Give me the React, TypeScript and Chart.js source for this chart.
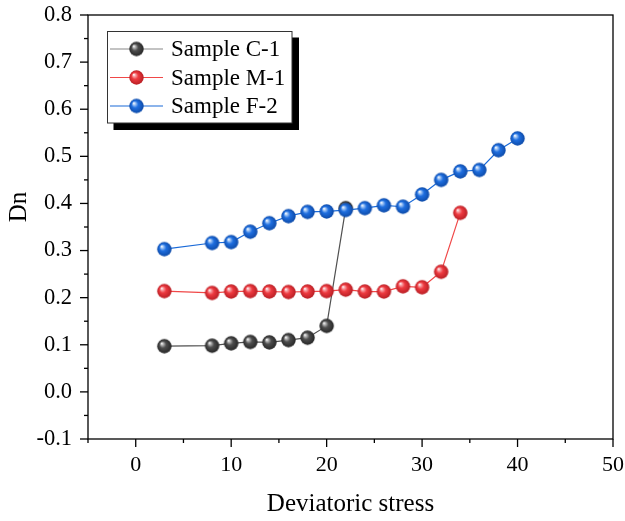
import React, { useEffect, useRef } from "react";
import { Chart, registerables } from "chart.js";

Chart.register(...registerables);

const xC1 = [3, 8, 10, 12, 14, 16, 18, 20, 22];
const yC1 = [0.097, 0.098, 0.103, 0.106, 0.105, 0.11, 0.115, 0.14, 0.39];
const xM1 = [3, 8, 10, 12, 14, 16, 18, 20, 22, 24, 26, 28, 30, 32, 34];
const yM1 = [0.214, 0.21, 0.213, 0.214, 0.213, 0.212, 0.213, 0.214, 0.217, 0.213, 0.213, 0.224, 0.222, 0.255, 0.38];
const xF2 = [3, 8, 10, 12, 14, 16, 18, 20, 22, 24, 26, 28, 30, 32, 34, 36, 38, 40];
const yF2 = [0.303, 0.316, 0.318, 0.34, 0.358, 0.373, 0.382, 0.383, 0.386, 0.39, 0.396, 0.393, 0.419, 0.45, 0.468, 0.471, 0.513, 0.538];
const seriesLabels = ["Sample C-1", "Sample M-1", "Sample F-2"];
const xTitle = "Deviatoric stress";
const yTitle = "Dn";

const FONT = "'Liberation Serif', 'Times New Roman', serif";

function makeSphere(base: string, mid: string, dark: string, r = 7.2): HTMLCanvasElement {
  const c = document.createElement("canvas");
  const s = Math.ceil(r * 2 + 2);
  c.width = s;
  c.height = s;
  const ctx = c.getContext("2d")!;
  const cx = s / 2, cy = s / 2;
  const g = ctx.createRadialGradient(cx - r * 0.38, cy - r * 0.4, 0.2, cx, cy, r);
  g.addColorStop(0, "#ffffff");
  g.addColorStop(0.16, mid);
  g.addColorStop(0.45, base);
  g.addColorStop(1, dark);
  ctx.beginPath();
  ctx.arc(cx, cy, r, 0, Math.PI * 2);
  ctx.fillStyle = g;
  ctx.fill();
  return c;
}

export default function App() {
  const ref = useRef<HTMLCanvasElement | null>(null);
  useEffect(() => {
    document.body.style.margin = "0";
    const sC = makeSphere("#4e4e4e", "#b8b8b8", "#262626");
    const sM = makeSphere("#ee3a40", "#f8a8ac", "#b81e24");
    const sF = makeSphere("#1f6fe0", "#a8caf6", "#0d4aa8");
    const spheres = [sC, sM, sF];
    const lineColors = ["#505050", "#f04848", "#1a6ad8"];

    const toPts = (xs: number[], ys: number[]) => xs.map((x, i) => ({ x, y: ys[i] }));

    const isMajorY = (v: number) => Math.round(v * 100) % 10 === 0;
    const isMajorX = (v: number) => Math.round(v) % 10 === 0;

    const zeroPad = (s: any) => {
      s.paddingTop = 0;
      s.paddingBottom = 0;
      s.paddingLeft = 0;
      s.paddingRight = 0;
    };

    const deco = {
      id: "deco",
      afterDraw(chart: any) {
        const ctx = chart.ctx;
        const a = chart.chartArea;
        ctx.save();
        ctx.strokeStyle = "#000";
        ctx.lineWidth = 1.3;
        ctx.strokeRect(a.left, a.top, a.right - a.left, a.bottom - a.top);
        const ys = chart.scales.y;
        ys.ticks.forEach((t: any, i: number) => {
          const p = ys.getPixelForTick(i);
          const len = isMajorY(t.value) ? 8 : 4;
          ctx.beginPath();
          ctx.moveTo(a.left - len, p);
          ctx.lineTo(a.left, p);
          ctx.stroke();
        });
        const xs = chart.scales.x;
        xs.ticks.forEach((t: any, i: number) => {
          const p = xs.getPixelForTick(i);
          const len = isMajorX(t.value) ? 8 : 4;
          ctx.beginPath();
          ctx.moveTo(p, a.bottom);
          ctx.lineTo(p, a.bottom + len);
          ctx.stroke();
        });
        ctx.fillStyle = "#000";
        ctx.font = `25px ${FONT}`;
        ctx.textAlign = "center";
        ctx.textBaseline = "middle";
        ctx.fillText(xTitle, (a.left + a.right) / 2, 504);
        ctx.save();
        ctx.translate(19, 207);
        ctx.rotate(-Math.PI / 2);
        ctx.fillText(yTitle, 0, 0);
        ctx.restore();
        const lx = 107.5, ly = 31.5, lw = 184.5, lh = 91.5;
        ctx.fillStyle = "#000";
        ctx.fillRect(lx + 6, ly + 6, lw + 1, lh + 1);
        ctx.fillStyle = "#fff";
        ctx.fillRect(lx, ly, lw, lh);
        ctx.strokeStyle = "#333";
        ctx.lineWidth = 1;
        ctx.strokeRect(lx, ly, lw, lh);
        const rows = [49, 77.5, 106];
        chart.data.datasets.forEach((ds: any, i: number) => {
          const y = rows[i];
          ctx.strokeStyle = i === 0 ? "#888888" : lineColors[i];
          ctx.lineWidth = 1.2;
          ctx.beginPath();
          ctx.moveTo(110, y);
          ctx.lineTo(163, y);
          ctx.stroke();
          const img = spheres[i];
          ctx.drawImage(img, 136.5 - img.width / 2, y - img.height / 2);
          ctx.fillStyle = "#000";
          ctx.font = `23px ${FONT}`;
          ctx.textAlign = "left";
          ctx.textBaseline = "middle";
          ctx.fillText(ds.label, 171, y + 1);
        });
        ctx.restore();
      },
    };

    const chart = new Chart(ref.current!, {
      type: "scatter",
      data: {
        datasets: [
          {
            label: seriesLabels[0],
            data: toPts(xC1, yC1),
            showLine: true,
            borderColor: lineColors[0],
            borderWidth: 1.2,
            pointStyle: sC as any,
            pointRadius: 7,
            order: 2,
          },
          {
            label: seriesLabels[1],
            data: toPts(xM1, yM1),
            showLine: true,
            borderColor: lineColors[1],
            borderWidth: 1.2,
            pointStyle: sM as any,
            pointRadius: 7,
            order: 1,
          },
          {
            label: seriesLabels[2],
            data: toPts(xF2, yF2),
            showLine: true,
            borderColor: lineColors[2],
            borderWidth: 1.2,
            pointStyle: sF as any,
            pointRadius: 7,
            order: 0,
          },
        ],
      },
      options: {
        responsive: false,
        animation: false,
        layout: { padding: { top: 15, right: 12, left: 0, bottom: 0 } },
        plugins: { legend: { display: false }, tooltip: { enabled: false } },
        scales: {
          x: {
            type: "linear",
            min: -5,
            max: 50,
            grid: { display: false, drawTicks: true, tickLength: 8 },
            border: { display: false },
            ticks: {
              stepSize: 5,
              autoSkip: false,
              maxRotation: 0,
              padding: 5,
              color: "#000",
              font: { family: FONT, size: 22 },
              callback: (v: any) => (isMajorX(Number(v)) ? String(Math.round(Number(v))) : ""),
            },
            afterFit: (s: any) => {
              s.height = 82;
              zeroPad(s);
            },
          },
          y: {
            type: "linear",
            min: -0.1,
            max: 0.8,
            grid: { display: false, drawTicks: true, tickLength: 8 },
            border: { display: false },
            ticks: {
              stepSize: 0.05,
              autoSkip: false,
              padding: 8,
              color: "#000",
              font: { family: FONT, size: 22.5 },
              callback: (v: any) => (isMajorY(Number(v)) ? Number(v).toFixed(1) : ""),
            },
            afterFit: (s: any) => {
              s.width = 88;
              zeroPad(s);
            },
          },
        },
      },
      plugins: [deco],
    });
    return () => chart.destroy();
  }, []);
  return (
    <div style={{ width: 625, height: 521 }}>
      <canvas ref={ref} width={625} height={521} style={{ display: "block" }} />
    </div>
  );
}
